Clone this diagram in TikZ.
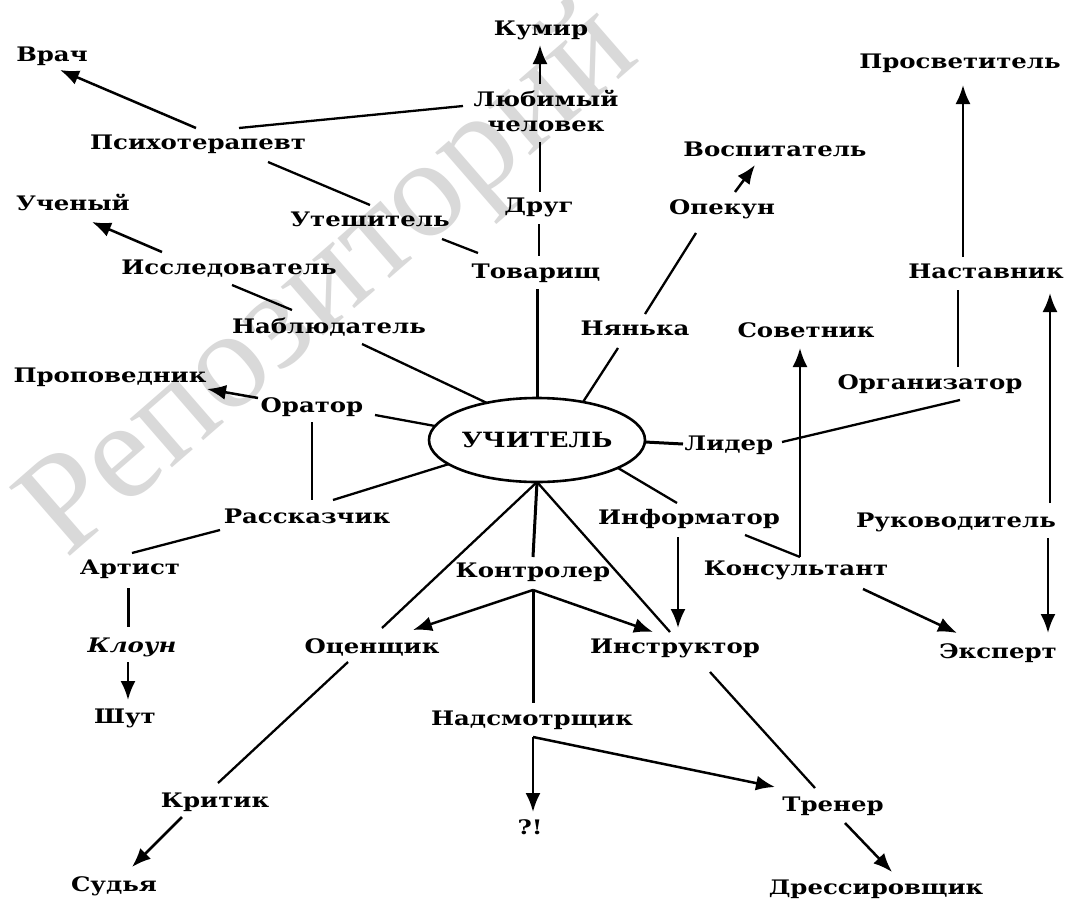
\documentclass[tikz,border=0pt]{standalone}
\usepackage{fontspec}
\setmainfont{DejaVu Serif}[FakeStretch=1.22]
\newfontfamily\wmfont{Liberation Serif}
\usetikzlibrary{arrows.meta,calc,shapes.geometric}
\begin{document}
\begin{tikzpicture}[x=1pt,y=-1pt,
  lbl/.style={font=\bfseries\fontsize{20}{25}\selectfont, inner sep=0pt, text height=13pt, text depth=0pt},
  ln/.style={line width=2.3pt},
  lnthick/.style={line width=3pt},
  ar/.style={line width=2.5pt,-{Latex[length=19pt,width=15pt]}},
]
\fill[white] (0,0) rectangle (1069,902);
\useasboundingbox (0,0) rectangle (1069,902);
\begin{scope}
\clip (0,0) rectangle (1069,902);
\node[font=\wmfont\fontsize{140}{140}\selectfont, text=black!15, rotate=41, anchor=base west, inner sep=0pt] (wm) at (66,560) {Репозиторий};
\end{scope}

\node[lbl] (vrach) at (52,55) {Врач};
\node[lbl] (kumir) at (541,29) {Кумир};
\node[lbl] (prosv) at (960,62) {Просветитель};
\node[lbl,align=center] (lub) at (546,125) {Любимый\\человек};
\node[lbl] (psy) at (198,143) {Психотерапевт};
\node[lbl] (vosp) at (775,150) {Воспитатель};
\node[lbl] (uchen) at (73,204) {Ученый};
\node[lbl] (drug) at (539,206) {Друг};
\node[lbl] (opek) at (722,208) {Опекун};
\node[lbl] (utesh) at (370,220) {Утешитель};
\node[lbl] (issl) at (229,268) {Исследователь};
\node[lbl] (tovar) at (536,272) {Товарищ};
\node[lbl] (nast) at (986,272) {Наставник};
\node[lbl] (nabl) at (329,327) {Наблюдатель};
\node[lbl] (nyan) at (635,329) {Нянька};
\node[lbl] (sovet) at (806,331) {Советник};
\node[lbl] (propov) at (110,376) {Проповедник};
\node[lbl] (organ) at (930,383) {Организатор};
\node[lbl] (orator) at (312,406) {Оратор};
\node[ellipse, draw, line width=2.6pt, minimum width=216pt, minimum height=84pt, inner sep=0pt,
      font=\bfseries\fontsize{21}{25}\selectfont] (uchit) at (537,440) {УЧИТЕЛЬ};
\node[lbl] (lider) at (729,444) {Лидер};
\node[lbl] (rassk) at (307,517) {Рассказчик};
\node[lbl] (inform) at (689,518) {Информатор};
\node[lbl] (rukov) at (956,521) {Руководитель};
\node[lbl] (konsult) at (796,569) {Консультант};
\node[lbl] (artist) at (130,568) {Артист};
\node[lbl] (kontr) at (533,571) {Контролер};
\node[lbl, font=\bfseries\itshape\fontsize{20}{25}\selectfont] (kloun) at (132,646) {Клоун};
\node[lbl] (otsen) at (372,647) {Оценщик};
\node[lbl] (instr) at (675,647) {Инструктор};
\node[lbl] (ekspert) at (998,652) {Эксперт};
\node[lbl] (shut) at (125,717) {Шут};
\node[lbl] (nadsm) at (532,719) {Надсмотрщик};
\node[lbl] (kritik) at (215,801) {Критик};
\node[lbl] (trener) at (833,805) {Тренер};
\node[lbl] (q) at (530,828) {?!};
\node[lbl] (sudya) at (114,885) {Судья};
\node[lbl] (dress) at (876,888) {Дрессировщик};

\draw[ar] ($(psy)+(-2,-15)$) -- ($(vrach)+(8,15)$);
\draw[ln] ($(psy)+(41,-15)$) -- ($(lub)+(-83,-19)$);
\draw[ln] ($(psy)+(70,19)$) -- ($(utesh)+(0,-15)$);
\draw[ln] ($(utesh)+(72,19)$) -- ($(tovar)+(-58,-19)$);
\draw[ar] ($(lub)+(-6,-41)$) -- ($(kumir)+(-1,16)$);
\draw[ln] ($(lub)+(-6,17)$) -- ($(drug)+(1,-14)$);
\draw[ln] ($(drug)+(0,18)$) -- ($(tovar)+(3,-16)$);
\draw[lnthick] ($(tovar)+(1,17)$) -- ($(uchit)+(0,-42)$);
\draw[ar] ($(issl)+(-67,-16)$) -- ($(uchen)+(19,18)$);
\draw[ln] ($(issl)+(3,17)$) -- ($(nabl)+(-37,-17)$);
\draw[ln] ($(nabl)+(33,17)$) -- ($(uchit)+(-50,-37)$);
\draw[ar] ($(opek)+(13,-16)$) -- ($(vosp)+(-20,15)$);
\draw[ln] ($(opek)+(-26,25)$) -- ($(nyan)+(10,-15)$);
\draw[ln] ($(nyan)+(-17,19)$) -- ($(uchit)+(46,-38)$);
\draw[ar] ($(nast)+(-23,-15)$) -- ($(prosv)+(3,23)$);
\draw[ln] ($(organ)+(28,-16)$) -- ($(nast)+(-28,18)$);
\draw[ln] ($(lider)+(53,-2)$) -- ($(organ)+(30,17)$);
\draw[lnthick] ($(uchit)+(108,2)$) -- ($(lider)+(-46,0)$);
\coordinate (kc) at ($(konsult)+(4,-12)$);
\draw[ln] ($(inform)+(56,17)$) -- (kc);
\draw[ar] (kc) -- ($(sovet)+(-6,17)$);
\draw[ar] ($(konsult)+(67,20)$) -- ($(ekspert)+(-41,-19)$);
\draw[ar] ($(rukov)+(94,-18)$) -- ($(nast)+(64,21)$);
\draw[ar] ($(rukov)+(92,17)$) -- ($(ekspert)+(50,-19)$);
\draw[ar] ($(orator)+(-54,-8)$) -- ($(propov)+(97,13)$);
\draw[ln] ($(orator)+(63,9)$) -- ($(uchit)+(-102,-14)$);
\draw[ln] ($(orator)+(0,16)$) -- ($(rassk)+(5,-17)$);
\draw[ln] ($(rassk)+(26,-17)$) -- ($(uchit)+(-88,24)$);
\draw[ln] ($(rassk)+(-87,13)$) -- ($(artist)+(2,-15)$);
\draw[lnthick] ($(artist)+(-2,20)$) -- ($(kloun)+(-4,-19)$);
\draw[ar] ($(kloun)+(-4,16)$) -- ($(shut)+(3,-17)$);
\draw[lnthick] ($(uchit)+(0,42)$) -- ($(kontr)+(0,-14)$);
\draw[ln] ($(uchit)+(0,42)$) -- ($(otsen)+(10,-19)$);
\draw[ln] ($(otsen)+(-24,15)$) -- ($(kritik)+(3,-18)$);
\draw[ar] ($(kritik)+(-33,16)$) -- ($(sudya)+(18,-18)$);
\draw[ln] ($(uchit)+(0,42)$) -- ($(instr)+(-5,-15)$);
\draw[ar] ($(kontr)+(0,19)$) -- ($(otsen)+(41,-17)$);
\draw[ar] ($(kontr)+(0,19)$) -- ($(instr)+(-22,-15)$);
\draw[lnthick] ($(kontr)+(0,19)$) -- ($(nadsm)+(1,-16)$);
\coordinate (nc) at ($(nadsm)+(1,18)$);
\draw[ar] (nc) -- ($(q)+(3,-16)$);
\draw[ar] (nc) -- ($(trener)+(-58,-18)$);
\draw[ln] ($(instr)+(35,25)$) -- ($(trener)+(-18,-17)$);
\draw[ar] ($(trener)+(12,18)$) -- ($(dress)+(16,-16)$);
\draw[ar] ($(inform)+(-11,19)$) -- ($(instr)+(3,-19)$);
\draw[ln] ($(uchit)+(81,28)$) -- ($(inform)+(-12,-15)$);
\end{tikzpicture}
\end{document}
